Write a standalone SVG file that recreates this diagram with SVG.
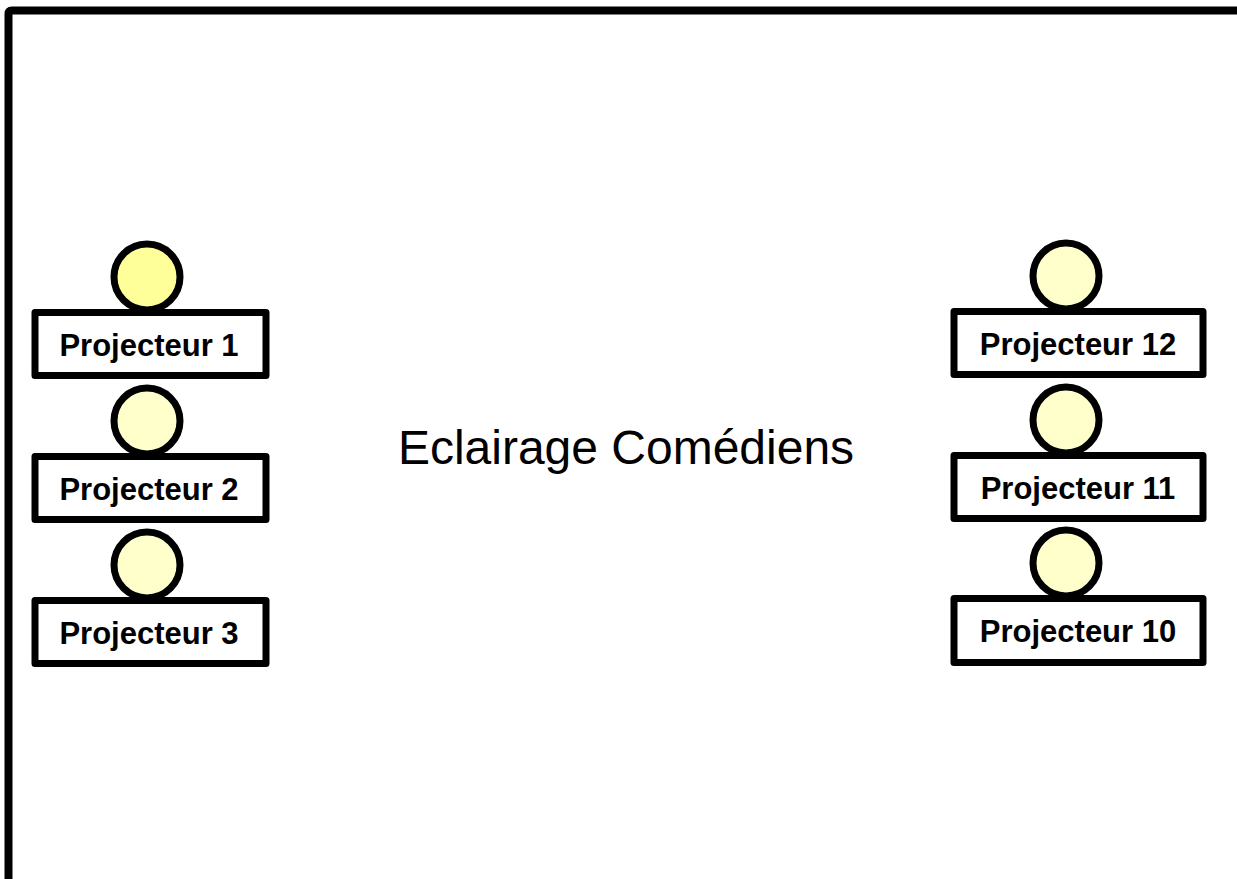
<svg xmlns="http://www.w3.org/2000/svg" width="1237" height="879" viewBox="0 0 1237 879">
<style>
.frame{fill:none;stroke:#000;stroke-width:8}
.lamp{stroke:#000;stroke-width:7;fill:#FFFFCC}
.lamp1{fill:#FFFF99}
.box{fill:#fff;stroke:#000;stroke-width:7;stroke-linejoin:round}
.lbl{font-family:"Liberation Sans",Arial,sans-serif;font-weight:bold;font-size:31px;text-anchor:middle;fill:#000}
.title{font-family:"Liberation Sans",Arial,sans-serif;font-size:48px;text-anchor:middle;fill:#000}
</style>
<rect width="1237" height="879" fill="#fff"/>
<path class="frame" d="M8.5 890 L8.5 14 Q8.5 10.5 12 10.5 L1250 10.5"/>
<g id="connectors"></g>
<g id="title"><text class="title" x="626" y="464">Eclairage Comédiens</text></g>
<g id="p1">
<circle class="lamp lamp1" cx="147" cy="277" r="33"/>
<rect class="box" x="35" y="312.5" width="231" height="63"/>
<text class="lbl" x="149" y="356">Projecteur 1</text>
</g>
<g id="p2">
<circle class="lamp" cx="147" cy="421" r="33"/>
<rect class="box" x="35" y="456.5" width="231" height="63"/>
<text class="lbl" x="149" y="500">Projecteur 2</text>
</g>
<g id="p3">
<circle class="lamp" cx="147" cy="565" r="33"/>
<rect class="box" x="35" y="600.5" width="231" height="63"/>
<text class="lbl" x="149" y="644">Projecteur 3</text>
</g>
<g id="p12">
<circle class="lamp" cx="1066" cy="276" r="33"/>
<rect class="box" x="954" y="311.5" width="249" height="63"/>
<text class="lbl" x="1078" y="355">Projecteur 12</text>
</g>
<g id="p11">
<circle class="lamp" cx="1066" cy="420" r="33"/>
<rect class="box" x="954" y="455.5" width="249" height="63"/>
<text class="lbl" x="1078" y="499">Projecteur 11</text>
</g>
<g id="p10">
<circle class="lamp" cx="1066" cy="563" r="33"/>
<rect class="box" x="954" y="598.5" width="249" height="64"/>
<text class="lbl" x="1078" y="642">Projecteur 10</text>
</g>
</svg>
